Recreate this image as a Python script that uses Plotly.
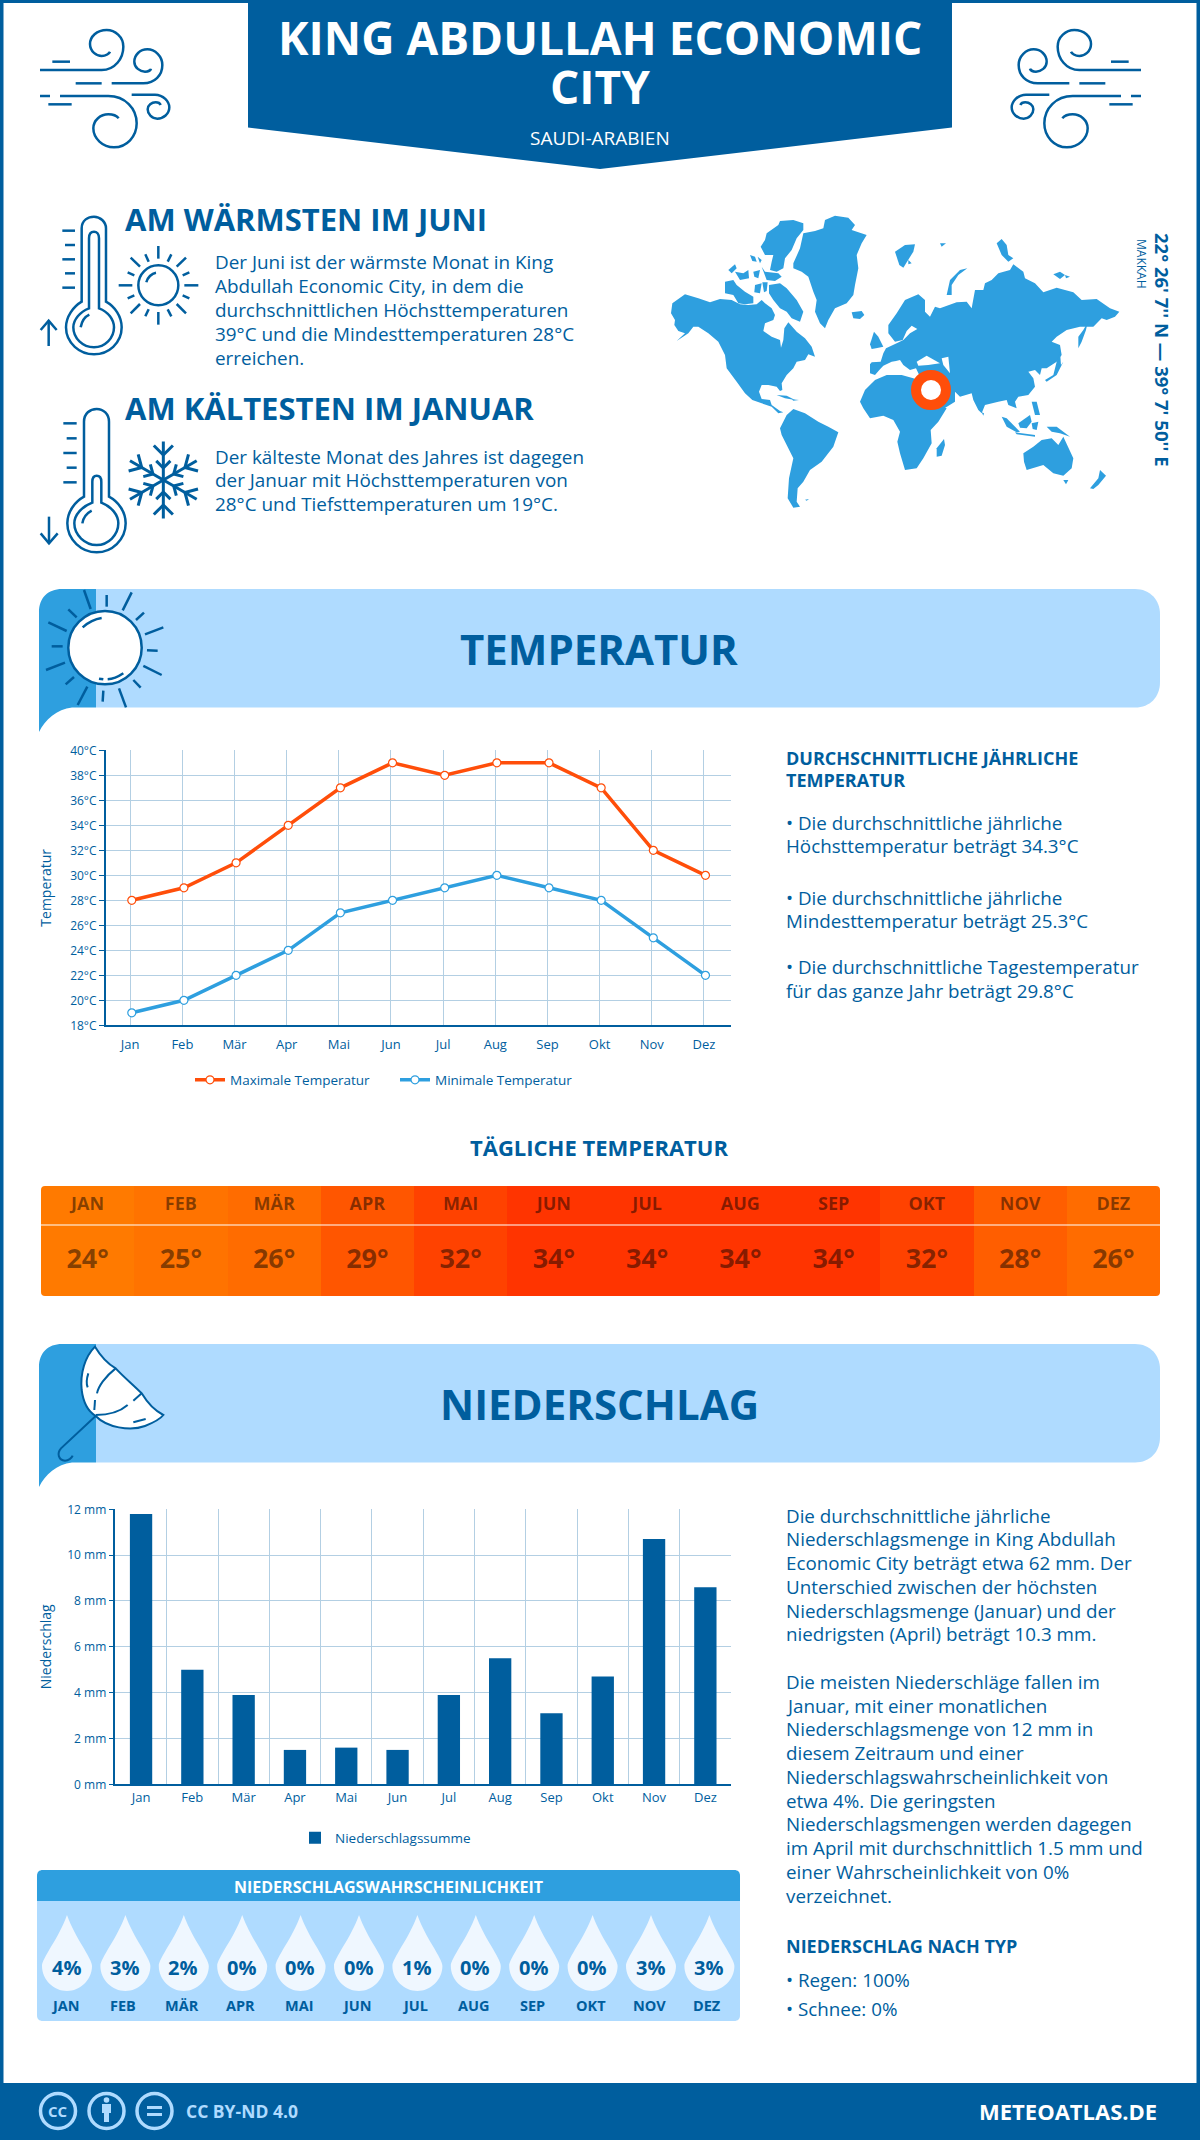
import re, math
import plotly.graph_objects as go

W, H = 1200, 2140
BLUE = "#005E9E"
MID = "#2E9FDF"
LIGHT = "#AFDBFF"
ORANGE = "#FF4E0A"
GRID = "#B3CFE3"
FONT = "Open Sans"

MONTHS = ["Jan", "Feb", "Mär", "Apr", "Mai", "Jun", "Jul", "Aug", "Sep", "Okt", "Nov", "Dez"]
MONTHS_UP = ["JAN", "FEB", "MÄR", "APR", "MAI", "JUN", "JUL", "AUG", "SEP", "OKT", "NOV", "DEZ"]
TEMP_MAX = [28, 29, 31, 34, 37, 39, 38, 39, 39, 37, 32, 30]
TEMP_MIN = [19, 20, 22, 24, 27, 28, 29, 30, 29, 28, 25, 22]
TEMP_DAILY = [24, 25, 26, 29, 32, 34, 34, 34, 34, 32, 28, 26]
PRECIP = [11.8, 5.0, 3.9, 1.5, 1.6, 1.5, 3.9, 5.5, 3.1, 4.7, 10.7, 8.6]
PROB = [4, 3, 2, 0, 0, 0, 1, 0, 0, 0, 3, 3]

WARM_TEXT = ["Der Juni ist der wärmste Monat in King", "Abdullah Economic City, in dem die",
             "durchschnittlichen Höchsttemperaturen", "39°C und die Mindesttemperaturen 28°C", "erreichen."]
COLD_TEXT = ["Der kälteste Monat des Jahres ist dagegen", "der Januar mit Höchsttemperaturen von",
             "28°C und Tiefsttemperaturen um 19°C."]
TEMP_SIDE = [("• Die durchschnittliche jährliche", 823), ("Höchsttemperatur beträgt 34.3°C", 846),
             ("• Die durchschnittliche jährliche", 898), ("Mindesttemperatur beträgt 25.3°C", 921),
             ("• Die durchschnittliche Tagestemperatur", 967), ("für das ganze Jahr beträgt 29.8°C", 991)]
RAIN_SIDE = [("Die durchschnittliche jährliche", 1516), ("Niederschlagsmenge in King Abdullah", 1539),
             ("Economic City beträgt etwa 62 mm. Der", 1563), ("Unterschied zwischen der höchsten", 1587),
             ("Niederschlagsmenge (Januar) und der", 1611), ("niedrigsten (April) beträgt 10.3 mm.", 1634),
             ("Die meisten Niederschläge fallen im", 1682), ("Januar, mit einer monatlichen", 1706),
             ("Niederschlagsmenge von 12 mm in", 1729), ("diesem Zeitraum und einer", 1753),
             ("Niederschlagswahrscheinlichkeit von", 1777), ("etwa 4%. Die geringsten", 1801),
             ("Niederschlagsmengen werden dagegen", 1824), ("im April mit durchschnittlich 1.5 mm und", 1848),
             ("einer Wahrscheinlichkeit von 0%", 1872), ("verzeichnet.", 1896)]

shapes, notes = [], []


def X(x):
    return x / W


def Y(y):
    return 1 - y / H


def path(d, fx=lambda v: v, fy=lambda v: v, fill=None, stroke=None, lw=2.5, layer="below"):
    out, is_x = [], True
    for tok in re.findall(r"[MLCQZ]|-?\d+\.?\d*", d):
        if tok in "MLCQZ":
            out.append(tok)
            is_x = True
        else:
            v = float(tok)
            out.append(f"{X(fx(v)):.5f}" if is_x else f"{Y(fy(v)):.5f}")
            is_x = not is_x
    s = dict(type="path", xref="paper", yref="paper", layer=layer, path=" ".join(out))
    s["fillcolor"] = fill if fill else "rgba(0,0,0,0)"
    s["line"] = dict(color=stroke, width=lw) if stroke else dict(width=0)
    shapes.append(s)


def zpath(d, ox, oy, s=3.0, mirror=None, **kw):
    fx = (lambda v: ox + v / s) if mirror is None else (lambda v: mirror - (ox + v / s))
    path(d, fx, lambda v: oy + v / s, **kw)


def rect(x0, y0, x1, y1, fill, layer="below"):
    shapes.append(dict(type="rect", xref="paper", yref="paper", layer=layer, x0=X(x0), x1=X(x1),
                       y0=Y(y0), y1=Y(y1), fillcolor=fill, line=dict(width=0)))


def circle(cx, cy, r, fill=None, stroke=None, lw=2.5):
    shapes.append(dict(type="circle", xref="paper", yref="paper", layer="below", x0=X(cx - r), x1=X(cx + r),
                       y0=Y(cy - r), y1=Y(cy + r), fillcolor=fill or "rgba(0,0,0,0)",
                       line=dict(color=stroke, width=lw) if stroke else dict(width=0)))


def T(x, y, text, size, color=BLUE, weight=400, anchor="left", angle=0, family=FONT):
    notes.append(dict(xref="paper", yref="paper", x=X(x), y=Y(y), text=text, showarrow=False,
                      xanchor=anchor, yanchor="middle", textangle=angle, align=anchor,
                      font=dict(family=family, size=size, color=color, weight=weight),
                      borderpad=0, borderwidth=0))


# --- frame, header, footer
rect(0, 0, 3.5, H, BLUE)
rect(W - 3.5, 0, W, H, BLUE)
rect(0, 0, W, 3, BLUE)
path("M248 0 L952 0 L952 127.5 L600 169 L248 127.5 Z", fill=BLUE)
rect(0, 2083, W, H, BLUE)
T(600, 37, "KING ABDULLAH ECONOMIC", 46, "white", 700, "center")
T(600, 86, "CITY", 46, "white", 700, "center")
T(600, 138, "SAUDI-ARABIEN", 19, "white", 400, "center")

WIND = ["M67 125 L120 125",
        "M30 150 L215 150 C255 150 280 115 280 80 C280 50 255 30 230 30 C200 30 180 50 180 72 C180 95 200 108 215 108 C228 108 238 100 240 95",
        "M137 190 L215 190",
        "M245 190 L340 190 C375 190 397 165 397 135 C397 108 375 88 352 88 C330 88 313 105 313 125 C313 143 330 155 345 155 C355 155 362 150 363 146",
        "M30 228 L60 228",
        "M90 228 L235 228 C285 228 320 265 320 310 C320 350 290 382 252 382 C218 382 190 355 190 325 C190 300 212 283 235 283 C250 283 262 290 266 295",
        "M55 253 L125 253",
        "M305 224 L375 224 C400 224 418 245 418 262 C418 282 400 296 382 296 C365 296 353 282 353 268 C353 255 365 247 377 247 C385 247 390 250 392 255"]
for d in WIND:
    zpath(d, 30, 20, stroke=BLUE)
    zpath(d, 30, 20, mirror=1181, stroke=BLUE)

# --- warm / cold blocks
T(125, 218.5, "AM WÄRMSTEN IM JUNI", 31, BLUE, 700)
for i, line in enumerate(WARM_TEXT):
    T(215, 262.5 + i * 23.8, line, 18.9)
T(125, 408, "AM KÄLTESTEN IM JANUAR", 31, BLUE, 700)
for i, line in enumerate(COLD_TEXT):
    T(215, 457 + i * 23.5, line, 18.9)

THERMO = ["M155 275 L155 55 C155 30 175 20 192 20 C210 20 228 35 228 55 L228 275 C255 290 275 320 275 352 C275 400 235 433 192 433 C150 433 108 400 108 352 C108 320 130 290 155 275 Z",
          "M177 295 L177 85 C177 70 185 65 192 65 C200 65 207 72 207 85 L207 295 C235 305 252 330 252 352 C252 385 225 412 192 412 C158 412 130 385 130 352 C130 330 150 305 177 295 Z",
          "M152 352 C155 335 165 320 178 314",
          "M97 62 L135 62", "M105 105 L135 105", "M97 148 L135 148", "M105 190 L135 190", "M97 233 L135 233",
          "M56 408 L56 332", "M32 360 L56 332 L80 360",
          "M349 217 C352 203 365 190 378 188",
          "M385 108 L385 146", "M385 306 L385 344", "M266 226 L307 226", "M463 226 L505 226",
          "M302 143 L330 170", "M468 143 L440 170", "M302 310 L330 282", "M468 310 L440 282",
          "M346 133 L356 155", "M424 133 L413 155", "M293 187 L313 196", "M478 187 L458 196",
          "M293 265 L313 256", "M478 265 L458 256", "M346 319 L356 298", "M424 319 L413 298",
          "M162 860 L162 635 C162 610 180 597 200 597 C220 597 237 612 237 635 L237 860 C265 875 287 905 287 940 C287 990 245 1027 200 1027 C155 1027 112 990 112 940 C112 905 135 875 162 860 Z",
          "M187 878 L187 815 C187 802 193 797 200 797 C208 797 214 803 214 815 L214 878 C245 890 265 915 265 940 C265 975 235 1005 200 1005 C165 1005 133 975 133 940 C133 915 155 890 187 878 Z",
          "M157 940 C160 922 170 910 185 902",
          "M100 640 L140 640", "M110 685 L140 685", "M100 729 L140 729", "M110 773 L140 773", "M100 817 L140 817",
          "M57 920 L57 1000", "M32 970 L57 1000 L83 970"]
for d in THERMO:
    zpath(d, 30, 210, stroke=BLUE)
circle(30 + 385 / 3, 210 + 226 / 3, 20, stroke=BLUE)
# snowflake
cx, cy = 30 + 400 / 3, 210 + 810 / 3
for k in range(6):
    a = math.radians(90 + 60 * k)
    ux, uy = math.cos(a), -math.sin(a)
    path(f"M{cx:.2f} {cy:.2f} L{cx + 38.5 * ux:.2f} {cy + 38.5 * uy:.2f}", stroke=BLUE, lw=3)
    for r0, ln in ((25, 13.5), (12, 10)):
        bx, by = cx + r0 * ux, cy + r0 * uy
        for sgn in (-1, 1):
            b = a + sgn * math.pi / 4
            path(f"M{bx:.2f} {by:.2f} L{bx + ln * math.cos(b):.2f} {by - ln * math.sin(b):.2f}", stroke=BLUE, lw=3)

# --- world map (outline)
AMERICAS = [
    "M22 295 L60 268 L100 280 L135 292 L165 282 L200 285 L225 298 L250 300 L275 298 L290 285 L300 295 L320 310 L330 330 L325 345 L300 355 L295 378 L320 395 L345 405 L348 428 L355 405 L358 370 L370 352 L395 380 L420 400 L440 425 L450 455 L430 448 L420 465 L395 470 L385 490 L365 510 L350 535 L352 555 L345 558 L335 545 L310 540 L290 540 L282 560 L290 582 L315 585 L320 600 L345 618 L355 622 L340 625 L320 605 L290 595 L262 585 L240 565 L215 530 L200 510 L185 490 L180 450 L160 410 L130 385 L100 365 L85 365 L70 385 L35 408 L60 385 L40 378 L28 360 L30 345 L18 325 Z",
    "M312 240 L345 235 L365 250 L395 285 L415 320 L405 350 L380 340 L365 320 L345 310 L325 285 L312 265 Z",
    "M385 175 L405 130 L415 85 L450 78 L475 70 L480 45 L510 32 L550 38 L570 60 L560 75 L605 90 L590 115 L575 150 L580 190 L570 240 L565 270 L545 295 L510 310 L490 345 L480 370 L465 355 L450 320 L455 285 L445 260 L430 215 L410 200 L385 190 Z",
    "M305 85 L340 60 L345 48 L385 45 L415 55 L415 75 L395 100 L380 135 L360 160 L355 190 L335 200 L315 195 L320 170 L325 150 L300 150 L287 125 L300 105 Z",
    "M180 230 L205 225 L215 240 L240 260 L265 275 L265 295 L240 298 L220 295 L205 270 L180 265 Z",
    "M190 195 L210 178 L215 190 L200 205 Z", "M210 200 L235 205 L250 195 L252 220 L225 225 Z",
    "M265 200 L285 195 L280 220 L268 215 Z", "M290 185 L300 200 L340 205 L350 215 L330 228 L305 225 Z",
    "M255 150 L270 155 L275 170 L262 168 Z", "M278 155 L290 165 L285 175 Z",
    "M270 240 L290 235 L285 265 L268 262 Z", "M292 232 L308 232 L305 258 L297 262 Z",
    "M345 670 L365 630 L385 612 L420 625 L460 650 L490 665 L520 682 L505 725 L470 770 L435 795 L415 830 L398 850 L395 890 L405 905 L385 908 L368 880 L372 820 L385 760 L350 690 Z",
    "M335 570 L365 572 L390 585 L360 580 Z", "M380 583 L402 585 L385 587 Z",
    "M560 322 L590 318 L598 330 L585 342 L565 340 Z", "M420 884 L432 882 L425 887 Z"]
EURASIA = [
    "M30 478 L35 472 L62 470 L70 445 L78 430 L110 415 L130 405 L150 385 L172 372 L155 362 L140 378 L128 405 L105 410 L85 385 L85 360 L110 325 L135 285 L175 268 L195 285 L195 320 L210 335 L225 305 L240 310 L290 292 L320 290 L335 310 L345 255 L370 255 L375 235 L395 225 L415 205 L450 195 L460 178 L490 200 L495 220 L525 235 L550 262 L590 248 L640 262 L665 285 L710 282 L750 310 L778 320 L765 335 L740 345 L725 340 L700 365 L660 365 L620 375 L590 395 L575 410 L600 420 L605 450 L590 470 L560 490 L545 490 L540 510 L525 495 L505 500 L520 520 L525 545 L505 570 L475 575 L465 590 L470 610 L445 600 L440 585 L415 590 L375 600 L365 625 L355 615 L340 585 L335 565 L300 575 L285 560 L285 590 L245 615 L225 625 L200 560 L175 505 L168 490 L150 495 L130 480 L120 465 L108 468 L95 470 L70 482 L58 495 L45 510 L30 505 Z",
    "M0 590 L15 555 L45 525 L80 510 L125 510 L160 520 L185 530 L225 600 L260 610 L235 650 L212 675 L215 715 L190 760 L170 790 L135 795 L120 745 L112 710 L120 680 L100 645 L70 632 L30 640 L10 610 Z",
    "M230 730 L252 702 L255 720 L245 752 L230 755 Z",
    "M30 418 L42 380 L55 395 L70 425 L48 430 L35 432 Z",
    "M105 140 L135 120 L165 118 L160 140 L130 188 L118 180 Z", "M145 165 L155 175 L145 178 Z",
    "M260 270 L270 225 L300 195 L322 190 L295 210 L275 240 L275 270 Z", "M240 115 L258 115 L245 125 Z",
    "M410 115 L425 102 L440 120 L445 150 L460 160 L445 170 L425 150 Z",
    "M580 208 L600 200 L615 210 L600 222 Z", "M615 210 L630 215 L618 220 Z",
    "M655 395 L670 375 L683 352 L678 375 L665 410 L655 430 Z",
    "M555 525 L580 510 L590 470 L600 440 L603 480 L610 470 L590 510 L560 530 Z",
    "M365 622 L372 625 L370 632 Z", "M515 590 L530 590 L540 630 L525 630 Z",
    "M475 655 L510 630 L515 650 L500 670 L480 668 Z", "M425 635 L440 640 L480 680 L470 682 L440 665 Z",
    "M465 682 L525 690 L525 695 L470 688 Z", "M515 655 L535 650 L530 675 L518 672 Z",
    "M560 665 L590 665 L630 695 L600 685 L575 680 Z",
    "M490 745 L520 725 L545 705 L575 700 L595 720 L610 695 L640 760 L635 790 L610 812 L580 805 L550 780 L500 795 L492 770 Z",
    "M610 825 L625 825 L618 838 Z", "M690 850 L715 820 L720 795 L738 812 L715 840 L700 852 Z"]
SEAS = ["M170 470 L200 452 L240 475 L205 480 L175 482 Z", "M245 460 L265 455 L270 505 L250 480 Z",
        "M100 478 L112 470 L130 490 L118 492 Z"]
for d in AMERICAS:
    zpath(d, 665, 205, fill=MID)
for d in EURASIA:
    zpath(d, 860, 205, fill=MID)
for d in SEAS:
    zpath(d, 860, 205, fill="white")
circle(931, 390, 15, fill="white", stroke=ORANGE, lw=10)
T(1162, 350, "22° 26' 7'' N — 39° 7' 50'' E", 18.5, BLUE, 700, "center", 90)
T(1142, 264, "MAKKAH", 12, BLUE, 400, "center", 90)


# --- section banners
def banner(dy):
    path(f"M96 {589 + dy} L1135 {589 + dy} C1150 {589 + dy} 1160 {600 + dy} 1160 {614 + dy} L1160 {682 + dy} C1160 {697 + dy} 1150 {707.5 + dy} 1135 {707.5 + dy} L96 {707.5 + dy} Z", fill=LIGHT)
    path(f"M96 {589 + dy} L96 {707.5 + dy} L72 {707.5 + dy} C57 {709 + dy} 45 {720 + dy} 39 {732 + dy} L39 {612 + dy} C39 {598 + dy} 48 {589 + dy} 62 {589 + dy} Z", fill=MID)


banner(0)
banner(755)
T(599, 648, "TEMPERATUR", 42, BLUE, 700, "center")
T(599, 1403, "NIEDERSCHLAG", 42, BLUE, 700, "center")

circle(35 + 210 / 3, 585 + 188 / 3, 36.7, fill="white", stroke=BLUE, lw=2.5)
SUN = ["M147 15 L167 72", "M100 73 L125 97", "M40 112 L95 138", "M50 184 L83 184", "M33 255 L90 233", "M92 298 L117 276",
       "M128 360 L157 305", "M203 350 L205 317", "M273 367 L252 310", "M317 308 L295 285", "M380 270 L325 243",
       "M368 197 L336 196", "M385 127 L330 148", "M327 83 L303 105", "M290 22 L263 76", "M215 30 L215 65",
       "M143 127 C160 112 180 102 200 99", "M218 283 C235 282 250 275 265 265", "M192 281 L205 283"]
for d in SUN:
    zpath(d, 35, 585, stroke=BLUE)

zpath("M180 20 C150 50 135 100 140 150 C145 190 160 215 182 228 C215 262 285 275 330 258 C355 248 375 238 385 225 C355 210 335 185 320 160 C295 135 265 110 242 85 C220 72 195 45 180 20 Z",
      35, 1340, fill="white", stroke=BLUE, lw=2)
for d in ["M182 228 L78 325 C65 340 70 360 90 362 C100 362 110 355 113 347", "M242 85 C210 110 190 140 186 160",
          "M180 180 L178 210", "M182 225 C220 225 255 215 278 195", "M295 182 L320 160",
          "M160 100 C155 115 153 130 158 142", "M295 247 L332 237"]:
    zpath(d, 35, 1340, stroke=BLUE, lw=2)

# --- side texts
T(786, 757.5, "DURCHSCHNITTLICHE JÄHRLICHE", 18, BLUE, 700)
T(786, 779.5, "TEMPERATUR", 18, BLUE, 700)
for line, yy in TEMP_SIDE:
    T(786, yy, line, 18.8)
for line, yy in RAIN_SIDE:
    T(786, yy, line, 18.8)
T(786, 1946, "NIEDERSCHLAG NACH TYP", 18, BLUE, 700)
T(786, 1980, "• Regen: 100%", 18.8)
T(786, 2009, "• Schnee: 0%", 18.8)
T(599, 1147, "TÄGLICHE TEMPERATUR", 22, BLUE, 700, "center")

# --- precipitation probability panel
path("M43 1870 L734 1870 C738 1870 740 1872 740 1876 L740 1901 L37 1901 L37 1876 C37 1872 39 1870 43 1870 Z", fill=MID)
path("M37 1901 L740 1901 L740 2015 C740 2019 738 2021 734 2021 L43 2021 C39 2021 37 2019 37 2015 Z", fill=LIGHT)
T(388.5, 1886.5, "NIEDERSCHLAGSWAHRSCHEINLICHKEIT", 16, "white", 700, "center")
for i, (m, p) in enumerate(zip(MONTHS_UP, PROB)):
    c = 67 + i * 58.4
    path(f"M{c} 1915 C{c + 8} 1938 {c + 25} 1958 {c + 25} 1966 C{c + 25} 1980 {c + 13} 1991 {c} 1991 C{c - 13} 1991 {c - 25} 1980 {c - 25} 1966 C{c - 25} 1958 {c - 8} 1938 {c} 1915 Z", fill="#EFF7FF")
    T(c - 1, 1967, f"{p}%", 20, BLUE, 700, "center")
    T(c - 2, 2005, m, 14.5, BLUE, 700, "center")

# --- footer
for c in (58, 106.5, 154.5):
    circle(c, 2111, 17.5, stroke=LIGHT, lw=3.5)
T(58, 2111, "CC", 15, LIGHT, 700, "center")
circle(106.5, 2100, 2.8, fill=LIGHT)
path("M102 2104 L111 2104 L111 2113 L109 2113 L109 2122 L104 2122 L104 2113 L102 2113 Z", fill=LIGHT)
rect(147, 2106, 162, 2109, LIGHT)
rect(147, 2113, 162, 2116, LIGHT)
T(186, 2111, "CC BY-ND 4.0", 17.5, LIGHT, 700)
T(1157, 2111, "METEOATLAS.DE", 22, "white", 700, "right")

# --- figure and traces
fig = go.Figure()
idx = list(range(12))
fig.add_trace(go.Scatter(x=idx, y=TEMP_MAX, name="Maximale Temperatur", mode="lines+markers",
                         line=dict(color=ORANGE, width=3.5),
                         marker=dict(size=8, color="white", line=dict(color=ORANGE, width=1.2)),
                         xaxis="x", yaxis="y", legend="legend"))
fig.add_trace(go.Scatter(x=idx, y=TEMP_MIN, name="Minimale Temperatur", mode="lines+markers",
                         line=dict(color=MID, width=3.5),
                         marker=dict(size=8, color="white", line=dict(color=MID, width=1.2)),
                         xaxis="x", yaxis="y", legend="legend"))
fig.add_trace(go.Heatmap(x=MONTHS_UP, y=[0], z=[TEMP_DAILY], zmin=24, zmax=34, showscale=False, xgap=0, ygap=0,
                         colorscale=[[0, "#FF7A00"], [0.2, "#FF6C00"], [0.4, "#FF5E00"], [0.5, "#FF5600"],
                                     [0.8, "#FF4200"], [1, "#FF3400"]],
                         xaxis="x2", yaxis="y2", hoverinfo="skip"))
STRIP_TEXT = "rgba(0,0,0,0.47)"
fig.add_trace(go.Scatter(x=MONTHS_UP, y=[0.32] * 12, text=MONTHS_UP, mode="text", showlegend=False, hoverinfo="skip",
                         textfont=dict(family=FONT, size=18, color=STRIP_TEXT, weight=700), xaxis="x2", yaxis="y2"))
fig.add_trace(go.Scatter(x=MONTHS_UP, y=[-0.18] * 12, text=[f"{v}°" for v in TEMP_DAILY], mode="text", showlegend=False,
                         hoverinfo="skip", textfont=dict(family=FONT, size=27, color=STRIP_TEXT, weight=700),
                         xaxis="x2", yaxis="y2"))
fig.add_trace(go.Bar(x=MONTHS, y=PRECIP, name="Niederschlagssumme", marker=dict(color=BLUE, line=dict(width=0)),
                     width=0.435, xaxis="x3", yaxis="y3", legend="legend2"))

# strip divider and rounded corners
rect(41, 1224.5, 1160, 1225.5, "white", layer="above")
for (x, y, dx, dy) in ((41, 1186, 1, 1), (1160, 1186, -1, 1), (41, 1296, 1, -1), (1160, 1296, -1, -1)):
    path(f"M{x} {y} L{x + 4 * dx} {y} Q{x} {y} {x} {y + 4 * dy} Z", fill="white", layer="above")

tick = dict(family=FONT, size=12, color=BLUE)
xtick = dict(family=FONT, size=13, color=BLUE)
title_font = dict(family=FONT, size=14, color=BLUE)
fig.update_layout(
    width=W, height=H, autosize=False, margin=dict(l=0, r=0, t=0, b=0, pad=0),
    paper_bgcolor="white", plot_bgcolor="rgba(0,0,0,0)", hovermode=False, bargap=0.5,
    shapes=shapes, annotations=notes, font=dict(family=FONT, color=BLUE),
    xaxis=dict(domain=[X(105.7), X(730.5)], range=[-0.5, 11.48], tickmode="array",
               tickvals=[i - 0.03 for i in idx], ticktext=MONTHS, tickfont=xtick, ticks="outside", ticklen=6,
               tickcolor="rgba(0,0,0,0)",
               showgrid=True, gridcolor=GRID, gridwidth=1, showline=True, linecolor=BLUE, linewidth=1.5,
               zeroline=False, automargin=False, anchor="y"),
    yaxis=dict(domain=[Y(1025.3), Y(750.3)], range=[18, 40], dtick=2, tick0=18, ticksuffix="°C", tickfont=tick,
               ticks="outside", ticklen=5, tickcolor=BLUE, showgrid=True, gridcolor=GRID, gridwidth=1,
               showline=True, linecolor=BLUE, linewidth=1.5, zeroline=False, automargin=False, anchor="x",
               title=dict(text="Temperatur", font=title_font, standoff=15)),
    xaxis2=dict(domain=[X(41), X(1160)], type="category", categoryorder="array", categoryarray=MONTHS_UP,
                range=[-0.5, 11.5], visible=False, anchor="y2"),
    yaxis2=dict(domain=[Y(1296), Y(1186)], range=[-0.5, 0.5], visible=False, anchor="x2"),
    xaxis3=dict(domain=[X(115.4), X(730.5)], type="category", categoryorder="array", categoryarray=MONTHS,
                range=[-0.5, 11.49], tickson="boundaries", ticks="outside", ticklen=6, tickcolor="rgba(0,0,0,0)",
                tickfont=xtick, showgrid=True, gridcolor=GRID,
                gridwidth=1, showline=True, linecolor=BLUE, linewidth=1.5, automargin=False, anchor="y3"),
    yaxis3=dict(domain=[Y(1784.3), Y(1509.3)], range=[0, 12], dtick=2, tick0=0, ticksuffix=" mm", tickfont=tick,
                ticks="outside", ticklen=5, tickcolor=BLUE, showgrid=True, gridcolor=GRID, gridwidth=1,
                showline=True, linecolor=BLUE, linewidth=1.5, zeroline=False, automargin=False, anchor="x3",
                title=dict(text="Niederschlag", font=title_font, standoff=12)),
    legend=dict(orientation="h", x=X(190), y=Y(1080), xanchor="left", yanchor="middle", entrywidth=160,
                font=dict(family=FONT, size=13.5, color=BLUE), bgcolor="rgba(0,0,0,0)", itemclick=False,
                itemdoubleclick=False),
    legend2=dict(orientation="h", x=X(295), y=Y(1838), xanchor="left", yanchor="middle",
                 font=dict(family=FONT, size=13.5, color=BLUE), bgcolor="rgba(0,0,0,0)", itemclick=False,
                 itemdoubleclick=False),
    showlegend=True,
)
fig.update_traces(showlegend=False, selector=dict(type="heatmap"))

fig.write_html("out.html", config=dict(displayModeBar=False),
               post_script="document.body.style.margin='0';document.body.style.overflow='hidden';")
